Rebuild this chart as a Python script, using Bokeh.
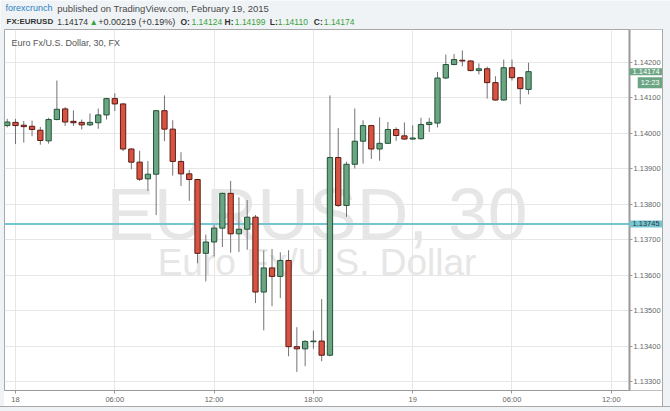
import pandas as pd
from bokeh.plotting import figure
from bokeh.models import (Range1d, FixedTicker, PrintfTickFormatter, Label, Span, ColumnDataSource,
                          Spacer)
from bokeh.layouts import column, row
from bokeh.embed import file_html
from bokeh.resources import INLINE
from bokeh.core.properties import value

# ---------------- data ----------------
opens = [1.14022, 1.14031, 1.14023, 1.14020, 1.14009, 1.13979, 1.14039, 1.14069, 1.14034, 1.14031,
         1.14024, 1.14030, 1.14052, 1.14098, 1.14083, 1.13956, 1.13919, 1.13872, 1.13885, 1.14064,
         1.14012, 1.13921, 1.13886, 1.13870, 1.13662, 1.13694, 1.13733, 1.13831, 1.13717, 1.13730,
         1.13764, 1.13553, 1.13621, 1.13597, 1.13642, 1.13399, 1.13393, 1.13413, 1.13415, 1.13375,
         1.13932, 1.13797, 1.13913, 1.13978, 1.14022, 1.13956, 1.13972, 1.14011, 1.13993, 1.13984,
         1.13985, 1.14025, 1.14029, 1.14156, 1.14194, 1.14206, 1.14204, 1.14177, 1.14182, 1.14143,
         1.14094, 1.14185, 1.14157, 1.14124]
closes = [1.14032, 1.14022, 1.14019, 1.14011, 1.13980, 1.14039, 1.14068, 1.14032, 1.14030, 1.14024,
          1.14031, 1.14052, 1.14098, 1.14083, 1.13956, 1.13919, 1.13871, 1.13885, 1.14064, 1.14012,
          1.13921, 1.13886, 1.13870, 1.13662, 1.13694, 1.13733, 1.13831, 1.13717, 1.13730, 1.13764,
          1.13553, 1.13621, 1.13597, 1.13642, 1.13399, 1.13393, 1.13414, 1.13415, 1.13375, 1.13932,
          1.13797, 1.13913, 1.13978, 1.14022, 1.13956, 1.13972, 1.14011, 1.13994, 1.13984, 1.13987,
          1.14025, 1.14031, 1.14156, 1.14194, 1.14208, 1.14204, 1.14177, 1.14182, 1.14143, 1.14094,
          1.14185, 1.14157, 1.14126, 1.14174]
highs = [1.14041, 1.14041, 1.14035, 1.14036, 1.14018, 1.14044, 1.14149, 1.14074, 1.14065, 1.14039,
         1.14056, 1.14070, 1.14100, 1.14113, 1.14085, 1.13958, 1.13951, 1.13922, 1.14066, 1.14107,
         1.14037, 1.13947, 1.13897, 1.13872, 1.13715, 1.13742, 1.13833, 1.13866, 1.13820, 1.13812,
         1.13770, 1.13670, 1.13674, 1.13665, 1.13671, 1.13454, 1.13417, 1.13444, 1.13533, 1.14107,
         1.14015, 1.13920, 1.14070, 1.14037, 1.14024, 1.14045, 1.14032, 1.14017, 1.14031, 1.14023,
         1.14044, 1.14044, 1.14173, 1.14222, 1.14224, 1.14234, 1.14206, 1.14197, 1.14188, 1.14161,
         1.14208, 1.14208, 1.14159, 1.14199]
lows = [1.14017, 1.13970, 1.13974, 1.13992, 1.13968, 1.13971, 1.14037, 1.14021, 1.14021, 1.14011,
        1.14021, 1.14013, 1.14039, 1.14063, 1.13950, 1.13899, 1.13866, 1.13838, 1.13770, 1.13978,
        1.13881, 1.13852, 1.13810, 1.13634, 1.13583, 1.13653, 1.13680, 1.13664, 1.13666, 1.13672,
        1.13522, 1.13445, 1.13513, 1.13536, 1.13372, 1.13328, 1.13344, 1.13393, 1.13358, 1.13372,
        1.13793, 1.13765, 1.13901, 1.13915, 1.13928, 1.13923, 1.13970, 1.13979, 1.13982, 1.13982,
        1.13983, 1.14004, 1.14017, 1.14153, 1.14192, 1.14189, 1.14175, 1.14166, 1.14098, 1.14092,
        1.14092, 1.14149, 1.14082, 1.14110]

start_time = "2015-02-17 23:30"
day_start = "2015-02-18 00:00"
price_ticks = [1.133, 1.134, 1.135, 1.136, 1.137, 1.138, 1.139, 1.140, 1.141, 1.142]
time_ticks = [0, 6, 12, 18, 24, 30, 36]
time_labels = ["18", "06:00", "12:00", "18:00", "19", "06:00", "12:00"]
last_price = 1.14174
last_price_text = "1.14174"
countdown = "12:23"
ref_price = 1.13745
ref_price_text = "1.13745"

chart_title = "Euro Fx/U.S. Dollar, 30, FX"
watermark_big = "EURUSD, 30"
watermark_small = "Euro Fx/U.S. Dollar"

# (text, x, colour, style, size)
line1 = [("forexcrunch", 5, "#2b7fc3", "normal", "9px"),
         ("published on TradingView.com, February 19, 2015", 56.7, "#4a4a4a", "normal", "9.5px")]
line2 = [("FX:EURUSD", 6, "#333333", "bold", "8px"),
         ("1.14174", 56.7, "#333333", "normal", "8.5px"),
         ("\u25B2", 89, "#3ba13b", "normal", "8.5px"),
         ("+0.00219 (+0.19%)", 97.7, "#333333", "normal", "9px"),
         ("O:", 180, "#333333", "bold", "8.5px"),
         ("1.14124", 191, "#3ba13b", "normal", "8.5px"),
         ("H:", 224, "#333333", "bold", "8.5px"),
         ("1.14199", 234.3, "#3ba13b", "normal", "8.5px"),
         ("L:", 269.3, "#333333", "bold", "8.5px"),
         ("1.14110", 277.3, "#3ba13b", "normal", "8.5px"),
         ("C:", 313.3, "#333333", "bold", "8.5px"),
         ("1.14174", 323.3, "#3ba13b", "normal", "8.5px")]

# ---------------- styling ----------------
UP_FILL, UP_LINE = "#6ba583", "#225437"
DN_FILL, DN_LINE = "#d75442", "#5b1a13"
WICK = "#737375"
GREY = "#f0f3f6"
BORDER = "#a8a8a8"
CYAN = "#74c6d3"
FONT = "Liberation Sans"
x_start, x_axis = -0.665, 37.1          # plotted time window (hours from Feb 18 00:00)
AXIS_PX = 33                            # width of the price scale strip
FRAME_W = 658
px_per_hour = (FRAME_W - AXIS_PX) / (x_axis - x_start)
x_max = x_axis + AXIS_PX / px_per_hour
y_start, y_end = 1.132756, 1.142927

times = pd.date_range(start_time, periods=len(opens), freq="30min")
hours = list((times - pd.Timestamp(day_start)) / pd.Timedelta(hours=1))
up = [c >= o for o, c in zip(opens, closes)]
src = ColumnDataSource(dict(
    x=hours,
    top=[max(o, c) for o, c in zip(opens, closes)],
    bottom=[min(o, c) for o, c in zip(opens, closes)],
    high=highs, low=lows,
    fill=[UP_FILL if u else DN_FILL for u in up],
    line=[UP_LINE if u else DN_LINE for u in up],
))

# ---------------- header ----------------
h = figure(width=670, height=29, x_range=Range1d(0, 670), y_range=Range1d(29, 0),
           output_backend="svg", toolbar_location=None, min_border=0)
h.axis.visible = False
h.grid.visible = False
h.outline_line_color = None
h.background_fill_color = GREY
h.border_fill_color = GREY
for txt, x, col, style, size in line1:
    h.text(x=[x], y=[7.5], text=[txt], text_color=col, text_font=value(FONT), text_font_size=size,
           text_font_style=style, text_baseline="middle")
for txt, x, col, style, size in line2:
    h.text(x=[x], y=[21], text=[txt], text_color=col, text_font=value(FONT), text_font_size=size,
           text_font_style=style, text_baseline="middle")

# ---------------- main chart ----------------
p = figure(width=FRAME_W, height=377, x_range=Range1d(x_start, x_max), y_range=Range1d(y_start, y_end),
           output_backend="svg", toolbar_location=None, y_axis_location="right",
           min_border_left=0, min_border_right=0, min_border_top=0, min_border_bottom=15)
p.background_fill_color = "white"
p.border_fill_color = "white"
p.outline_line_color = BORDER

p.xgrid.ticker = FixedTicker(ticks=time_ticks)
p.ygrid.ticker = FixedTicker(ticks=price_ticks)
p.grid.grid_line_color = "#e7e7e7"

def style_axis(ax):
    ax.major_label_text_font = FONT
    ax.major_label_text_font_size = "7.5px"
    ax.major_label_text_color = "#666666"
    ax.major_tick_in = 0
    ax.major_tick_out = 3
    ax.minor_tick_line_color = None
    ax.major_tick_line_color = "#999999"
    ax.axis_line_color = "#9a9a9a"
    ax.major_label_standoff = 1

xa = p.xaxis[0]
xa.ticker = FixedTicker(ticks=time_ticks)
xa.major_label_overrides = dict(zip(time_ticks, time_labels))
xa.bounds = (x_start, x_axis)
style_axis(xa)

ya = p.yaxis[0]
ya.ticker = FixedTicker(ticks=price_ticks)
ya.formatter = PrintfTickFormatter(format="%.5f")
ya.fixed_location = x_axis
style_axis(ya)
ya.axis_line_width = 2

# watermark
p.add_layout(Label(x=(x_start + x_axis) / 2, y=y_end, y_offset=-184, text=watermark_big,
                   text_font=FONT, text_font_size="71.5px", text_color="#e6e6e6",
                   text_align="center", text_baseline="alphabetic", level="underlay"))
p.add_layout(Label(x=(x_start + x_axis) / 2, y=y_end, y_offset=-233, text=watermark_small,
                   text_font=FONT, text_font_size="37px", text_color="#e6e6e6",
                   text_align="center", text_baseline="alphabetic", level="underlay"))

p.add_layout(Span(location=ref_price, dimension="width", line_color=CYAN, line_width=2,
                  level="underlay"))

# white strip behind the price scale
p.quad(left=[x_axis], right=[x_max], bottom=[y_start], top=[y_end], fill_color="white",
       line_color=None)

p.segment(x0="x", y0="low", x1="x", y1="high", source=src, line_color=WICK, line_width=1)
p.vbar(x="x", width=0.32, top="top", bottom="bottom", source=src,
       fill_color="fill", line_color="line", line_width=1)

p.add_layout(Label(x=x_start, y=y_end, x_offset=7, y_offset=-13.7, text=chart_title,
                   text_font=FONT, text_font_size="9px", text_color="#555555",
                   text_baseline="middle"))

# price tags on the price scale (padding given as (horizontal, vertical))
TAG_PAD = (3, 1)
p.add_layout(Label(x=x_axis, y=last_price, x_offset=0, text=last_price_text, text_font=FONT,
                   text_font_size="7.5px", text_color="white", background_fill_color=UP_FILL,
                   text_baseline="middle", padding=TAG_PAD, level="overlay"))
p.add_layout(Label(x=x_axis, y=last_price, x_offset=AXIS_PX, y_offset=-11, text=countdown,
                   text_font=FONT, text_font_size="7.5px", text_color="white",
                   background_fill_color=UP_FILL, text_align="right", text_baseline="middle",
                   padding=TAG_PAD, level="overlay"))
p.add_layout(Label(x=x_axis, y=ref_price, x_offset=0, text=ref_price_text, text_font=FONT,
                   text_font_size="7.5px", text_color="#333333", background_fill_color=CYAN,
                   text_baseline="middle", padding=TAG_PAD, level="overlay"))

left_pad = Spacer(width=4, height=377, styles={"background-color": GREY})
right_pad = Spacer(width=8, height=377, styles={"background-color": GREY,
                                                "border-left": "1px solid " + BORDER,
                                                "box-sizing": "border-box"})
bottom_pad = Spacer(width=670, height=5, styles={"background-color": GREY,
                                                 "border-top": "1px solid " + BORDER,
                                                 "box-sizing": "border-box"})
layout = column(h, row(left_pad, p, right_pad, spacing=0), bottom_pad, spacing=0)
open("out.html", "w").write(file_html(layout, INLINE))
